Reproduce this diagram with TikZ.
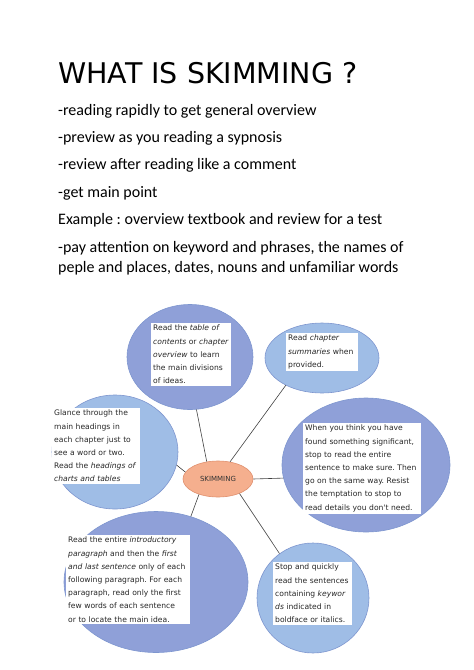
\documentclass[tikz,border=0pt]{standalone}
\usepackage{fontspec}
\setmainfont{Carlito}
\newfontfamily\titlefont{DejaVu Sans}
\newfontfamily\boxfont{DejaVu Sans}
\usetikzlibrary{shapes.geometric}
\definecolor{bubdark}{HTML}{8FA0D8}
\definecolor{bublight}{HTML}{9FBDE6}
\definecolor{bubline}{HTML}{7E96CF}
\definecolor{salmon}{HTML}{F5AF8E}
\definecolor{salmonline}{HTML}{E0906E}
\definecolor{linkgray}{HTML}{404040}
\frenchspacing
\tikzset{
  bubble/.style={ellipse, draw=bubline, line width=0.6pt, inner sep=0pt},
  dark/.style={bubble, fill=bubdark},
  light/.style={bubble, fill=bublight},
  textbox/.style={fill=white, anchor=north west, align=left, inner xsep=2pt, inner ysep=2pt,
    font=\boxfont\fontsize{7.6}{13.2}\selectfont\frenchspacing, text=black!85},
  link/.style={draw=linkgray, line width=0.6pt},
  bodyline/.style={anchor=base west, inner sep=0pt, font=\fontsize{16}{20}\selectfont\frenchspacing, align=left}
}
\begin{document}
\begin{tikzpicture}[x=1pt,y=-1pt]
\useasboundingbox (0,0) rectangle (474,670);
% header text
\node[anchor=base west, inner sep=0pt, font=\titlefont\fontsize{28.5}{30}\selectfont] (title) at (58,83) {WHAT IS SKIMMING ?};
\node[bodyline] (l1) at (58,115) {-reading rapidly to get general overview};
\node[bodyline] (l2) at (58,142) {-preview as you reading a sypnosis};
\node[bodyline] (l3) at (58,169) {-review after reading like a comment};
\node[bodyline] (l4) at (58,197) {-get main point};
\node[bodyline] (l5) at (58,224) {Example : overview textbook and review for a test};
\node[bodyline] (l6) at (58,252) {-pay attention on keyword and phrases, the names of};
\node[bodyline] (l7) at (58,272) {peple and places, dates, nouns and unfamiliar words};
% bubbles
\node[dark, minimum width=126pt, minimum height=105pt] (e1) at (190,357) {};
\node[light, minimum width=114pt, minimum height=70pt] (e2) at (322,358) {};
\node[light, minimum width=126pt, minimum height=114pt] (e3) at (115,452) {};
\node[dark, minimum width=168pt, minimum height=134pt] (e4) at (366,465) {};
\node[dark, minimum width=184pt, minimum height=141pt] (e6) at (156,582) {};
\node[light, minimum width=112pt, minimum height=110pt] (e7) at (313,598) {};
\node[ellipse, draw=salmonline, fill=salmon, line width=0.6pt, minimum width=70pt, minimum height=36pt, inner sep=0pt,
  font=\boxfont\fontsize{7}{8}\selectfont, text=black!80] (c) at (218,479) {SKIMMING};
% links
\draw[link] (c.123) -- (e1.277);
\draw[link] (c.55) -- (e2.217);
\draw[link] (c.168) -- (e3.348);
\draw[link] (c.0) -- (e4.189);
\draw[link] (c.219) -- (e6.62);
\draw[link] (c.326) -- (e7.127);
% text boxes
\node[textbox, text width=76pt] (t1) at (151,323) {Read the \textit{table of}\\\textit{contents} or \textit{chapter}\\\textit{overview} to learn\\the main divisions\\of ideas.};
\node[textbox, text width=68pt] (t2) at (286,333) {Read \textit{chapter}\\\textit{summaries} when\\provided.};
\node[textbox, text width=84pt] (t3) at (52,408) {Glance through the\\main headings in\\each chapter just to\\see a word or two.\\Read the \textit{headings of}\\\textit{charts and tables}};
\node[textbox, text width=114pt] (t4) at (303,423) {When you think you have\\found something significant,\\stop to read the entire\\sentence to make sure. Then\\go on the same way. Resist\\the temptation to stop to\\read details you don't need.};
\node[textbox, text width=120pt] (t6) at (66,535) {Read the entire \textit{introductory}\\\textit{paragraph} and then the \textit{first}\\\textit{and last sentence} only of each\\following paragraph. For each\\paragraph, read only the first\\few words of each sentence\\or to locate the main idea.};
\node[textbox, text width=75pt] (t7) at (273,562) {Stop and quickly\\read the sentences\\containing \textit{keywor}\\\textit{ds} indicated in\\boldface or italics.};
\end{tikzpicture}
\end{document}
